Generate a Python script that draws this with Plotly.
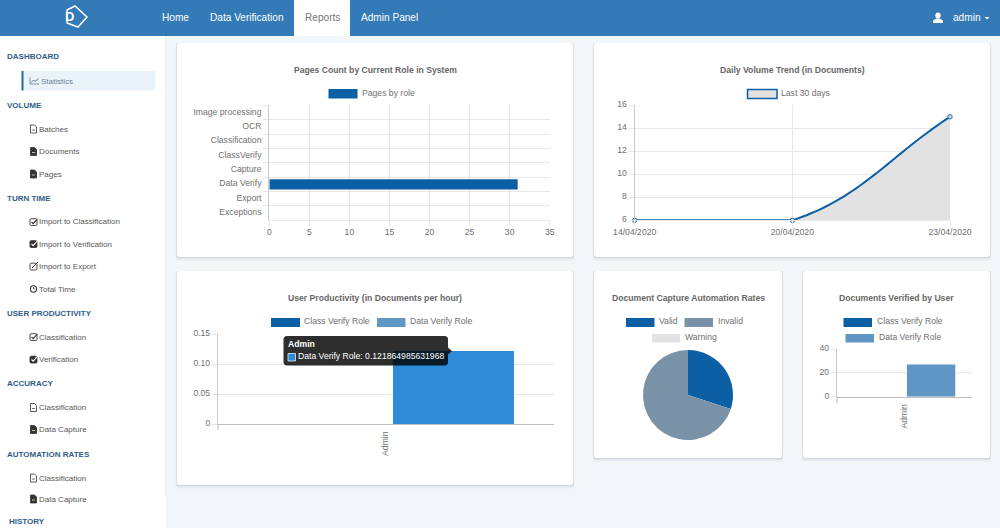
import plotly.graph_objects as go

# ---------- data ----------
role_categories = ["Image processing", "OCR", "Classification", "ClassVerify", "Capture", "Data Verify", "Export", "Exceptions"]
role_pages = [0, 0, 0, 0, 0, 31, 0, 0]
trend_dates = ["14/04/2020", "20/04/2020", "23/04/2020"]
trend_docs = [6, 6, 15]
users = ["Admin"]
prod_class = [0]
prod_data = [0.121864985631968]
auto_labels = ["Valid", "Invalid", "Warning"]
auto_values = [30, 70, 0]
verified_class = [0]
verified_data = [27]
nav_items = [("Home", 175.5), ("Data Verification", 246.5), ("Reports", 322), ("Admin Panel", 389.5)]
sidebar = [
    ("h", "DASHBOARD", 57), ("line", "Statistics", 81),
    ("h", "VOLUME", 105), ("docO", "Batches", 129), ("docF", "Documents", 151.5), ("docF", "Pages", 174),
    ("h", "TURN TIME", 198), ("chk", "Import to Classification", 222), ("chkF", "Import to Verification", 244),
    ("ext", "Import to Export", 266.5), ("clock", "Total Time", 289),
    ("h", "USER PRODUCTIVITY", 313), ("chk", "Classification", 337), ("chkF", "Verification", 359.5),
    ("h", "ACCURACY", 383), ("docO", "Classification", 407.5), ("docF", "Data Capture", 429.5),
    ("h", "AUTOMATION RATES", 454), ("docO", "Classification", 478), ("docF", "Data Capture", 499),
    ("h", "HISTORY", 521),
]

W, H = 1000, 528
FONT = "Liberation Sans, Arial, sans-serif"
BLUE = "#0b5fa5"
MID = "#6096c4"
SLATE = "#7a92a8"
GRID = "#e7e7e7"
AXIS = "#c9c9c9"
TXT = "#707070"
TICKPX = 8.64


def X(p):
    return p / W


def Y(p):
    return 1 - p / H


def P(x, y):
    return f"{X(x):.5f},{Y(y):.5f}"


shapes = []
ann = []


def rect(x0, y0, x1, y1, fill, line=None, lw=0, layer="below", opacity=1):
    shapes.append(dict(type="rect", xref="paper", yref="paper", x0=X(x0), x1=X(x1), y0=Y(y0), y1=Y(y1),
                       fillcolor=fill, line=dict(color=line or fill, width=lw), layer=layer, opacity=opacity))


def path(d, fill="rgba(0,0,0,0)", line="rgba(0,0,0,0)", lw=0, layer="below", opacity=1):
    shapes.append(dict(type="path", xref="paper", yref="paper", path=d, fillcolor=fill,
                       line=dict(color=line, width=lw), layer=layer, opacity=opacity))


def seg(x0, y0, x1, y1, color, lw=1, layer="below"):
    shapes.append(dict(type="line", xref="paper", yref="paper", x0=X(x0), x1=X(x1), y0=Y(y0), y1=Y(y1),
                       line=dict(color=color, width=lw), layer=layer))


def rrect_path(x0, y0, x1, y1, r):
    return (f"M{P(x0 + r, y0)} L{P(x1 - r, y0)} Q{P(x1, y0)} {P(x1, y0 + r)} L{P(x1, y1 - r)} "
            f"Q{P(x1, y1)} {P(x1 - r, y1)} L{P(x0 + r, y1)} Q{P(x0, y1)} {P(x0, y1 - r)} "
            f"L{P(x0, y0 + r)} Q{P(x0, y0)} {P(x0 + r, y0)} Z")


def text(x, y, s, size=TICKPX, color=TXT, bold=False, anchor="left", angle=0):
    ann.append(dict(xref="paper", yref="paper", x=X(x), y=Y(y), text=f"<b>{s}</b>" if bold else s, showarrow=False,
                    xanchor=anchor, yanchor="middle", align=anchor, borderpad=0, borderwidth=0, textangle=angle,
                    font=dict(family=FONT, size=size, color=color)))


def card(x0, y0, x1, y1):
    for off, op in ((4, 0.02), (3, 0.035), (2, 0.05), (1, 0.07)):
        path(rrect_path(x0 - off * 0.4, y0, x1 + off * 0.4, y1 + off, 3), fill="#3a4a5a", opacity=op)
    path(rrect_path(x0, y0, x1, y1, 3), fill="#ffffff")


def swatch(x0, y0, x1, y1, fill, line=None, lw=0):
    rect(x0, y0, x1, y1, fill, line, lw)


# ---------- page chrome ----------
rect(0, 36, 166, 528, "#ffffff")
seg(165.5, 36, 165.5, 496, "#eef0f2", 1)
rect(0, 0, 1000, 36, "#337ab7")
rect(294, 0, 350, 36, "#ffffff")
for label, cx in nav_items:
    text(cx, 18, label, size=10.1, color="#777777" if label == "Reports" else "#ffffff", anchor="center")
text(953, 18, "admin", size=10.1, color="#ffffff")
path(f"M{P(984.5, 17)} L{P(989.5, 17)} L{P(987, 19.5)} Z", fill="#ffffff")
shapes.append(dict(type="circle", xref="paper", yref="paper", x0=X(935.3), x1=X(940.7), y0=Y(18.5), y1=Y(12.5),
                   fillcolor="#ffffff", line=dict(width=0), layer="below"))
path(f"M{P(933, 23)} L{P(933, 20.5)} L{P(936.5, 18.5)} L{P(939.5, 18.5)} L{P(943, 20.5)} L{P(943, 23)} Z", fill="#ffffff")
# logo
path(f"M{P(67, 10)} L{P(75, 6)} L{P(87, 17)} L{P(78, 27)} L{P(67, 23)} Z", line="#ffffff", lw=1.5)
text(64.5, 16.5, "D", size=13, color="#ffffff", bold=True)

# sidebar
rect(22, 71, 155, 90.5, "#eaf3fa")
rect(21.5, 71, 23.5, 90.5, "#27699f")


def icon(kind, y):
    x0, x1, y0, y1 = 30.5, 36.5, y - 4, y + 4
    dark = "#333333"
    if kind in ("docO", "docF"):
        d = f"M{P(x0, y0)} L{P(x1 - 2, y0)} L{P(x1, y0 + 2)} L{P(x1, y1)} L{P(x0, y1)} Z"
        path(d, fill=dark if kind == "docF" else "#ffffff", line=dark, lw=0.8)
        seg(x0 + 1.5, y + 1, x1 - 1.5, y + 1, dark if kind == "docO" else "#ffffff", 0.7)
    elif kind in ("chk", "chkF", "ext"):
        path(rrect_path(x0 - 0.5, y0 + 0.7, x1 + 0.5, y1 - 0.5, 1.2), fill=dark if kind == "chkF" else "#ffffff", line=dark, lw=0.9)
        c = "#ffffff" if kind == "chkF" else dark
        if kind == "ext":
            path(f"M{P(x0 + 1.5, y + 1.5)} L{P(x1 + 1.5, y0 - 0.5)}", line=dark, lw=1)
        else:
            path(f"M{P(x0 + 1, y)} L{P(x0 + 2.7, y + 1.7)} L{P(x1 + 0.8, y - 3)}", line=c, lw=1.1)
    elif kind == "clock":
        shapes.append(dict(type="circle", xref="paper", yref="paper", x0=X(x0), x1=X(x1), y0=Y(y + 3.2), y1=Y(y - 3.2),
                           fillcolor="#ffffff", line=dict(color=dark, width=1.1), layer="below"))
        path(f"M{P(33.5, y - 2)} L{P(33.5, y)} L{P(35, y)}", line=dark, lw=0.7)
    elif kind == "line":
        path(f"M{P(30, y - 3.5)} L{P(30, y + 3)} L{P(39, y + 3)}", line="#4a6a85", lw=0.7)
        path(f"M{P(31, y + 1.5)} L{P(33.5, y - 1)} L{P(35, y + 0.5)} L{P(38.5, y - 2.5)}", line="#4a6a85", lw=0.9)


for kind, label, y in sidebar:
    if kind == "h":
        text(9 if label == "HISTORY" else 7, y, label, size=8, color="#2f5d88", bold=True)
    else:
        icon(kind, y)
        col = "#6d8296" if kind == "line" else "#585858"
        text(41 if kind == "line" else 39, y, label, size=8, color=col)

# ---------- cards ----------
card(177, 43, 573, 257)
card(594, 43, 990, 257)
card(177, 271, 573, 485)
card(594, 271, 782, 458)
card(803, 271, 990, 458)

for cx, cy, t in [(375, 70, "Pages Count by Current Role in System"), (792, 70, "Daily Volume Trend (in Documents)"),
                  (375, 298, "User Productivity (in Documents per hour)"), (688, 298, "Document Capture Automation Rates"),
                  (896.5, 298, "Documents Verified by User")]:
    text(cx, cy, t, bold=True, anchor="center", color="#666666")

# legends
swatch(328.5, 89, 357.5, 98.5, BLUE); text(362, 93, "Pages by role")
swatch(747.5, 89.5, 777, 98.5, "#e2e2e2", BLUE, 1.5); text(781, 93, "Last 30 days")
swatch(271, 318, 300, 327, BLUE); text(304.3, 321, "Class Verify Role")
swatch(377, 318, 405.5, 327, MID); text(410, 321, "Data Verify Role")
swatch(626, 318, 654.5, 327, BLUE); text(659, 321, auto_labels[0])
swatch(684.5, 318, 713, 327, SLATE); text(717.5, 321, auto_labels[1])
swatch(652, 334, 680, 342.5, "#e3e3e3"); text(685, 337, auto_labels[2])
swatch(843.5, 318, 872, 327, BLUE); text(877, 321, "Class Verify Role")
swatch(845.5, 334, 874, 342.5, MID); text(878.7, 337, "Data Verify Role")

# ---------- traces ----------
fig = go.Figure()
fig.add_trace(go.Bar(y=role_categories, x=role_pages, orientation="h", width=0.72, marker=dict(color=BLUE, line=dict(width=0)),
                     xaxis="x", yaxis="y", name="Pages by role"))

TREND_X_DOMAIN = (634.7, 950)
TREND_Y_DOMAIN = (220.3, 105.3)
TREND_Y_RANGE = (6, 16)


def tension_curve(vals, tension=0.4, steps=40):
    """Rendering of the smoothed line: the tension Bezier through the data values, capped to the plot area,
    computed the way the original chart library does it (in screen proportions)."""
    n = len(vals)
    sx = (TREND_X_DOMAIN[1] - TREND_X_DOMAIN[0]) / (n - 1)
    sy = (TREND_Y_DOMAIN[0] - TREND_Y_DOMAIN[1]) / (TREND_Y_RANGE[1] - TREND_Y_RANGE[0])
    pts = [(i * sx, v * sy) for i, v in enumerate(vals)]
    before, after = [], []
    for i, p in enumerate(pts):
        a = pts[max(i - 1, 0)]
        b = pts[min(i + 1, n - 1)]
        d01 = ((p[0] - a[0]) ** 2 + (p[1] - a[1]) ** 2) ** 0.5
        d12 = ((b[0] - p[0]) ** 2 + (b[1] - p[1]) ** 2) ** 0.5
        s = (d01 + d12) or 1
        fa, fb = tension * d01 / s, tension * d12 / s
        cap = lambda v: max(TREND_Y_RANGE[0] * sy, min(TREND_Y_RANGE[1] * sy, v))
        before.append((p[0] - fa * (b[0] - a[0]), cap(p[1] - fa * (b[1] - a[1]))))
        after.append((p[0] + fb * (b[0] - a[0]), cap(p[1] + fb * (b[1] - a[1]))))
    xs, ys = [], []
    for i in range(n - 1):
        p0, c1, c2, p3 = pts[i], after[i], before[i + 1], pts[i + 1]
        for k in range(steps):
            t = k / steps
            u = 1 - t
            bx = u**3 * p0[0] + 3 * u**2 * t * c1[0] + 3 * u * t**2 * c2[0] + t**3 * p3[0]
            by = u**3 * p0[1] + 3 * u**2 * t * c1[1] + 3 * u * t**2 * c2[1] + t**3 * p3[1]
            xs.append(bx / sx)
            ys.append(by / sy)
    xs.append(n - 1)
    ys.append(vals[-1])
    return xs, ys


cx_, cy_ = tension_curve(trend_docs)
fig.add_trace(go.Scatter(x=cx_, y=cy_, mode="lines", fill="tozeroy", fillcolor="#e2e2e2",
                         line=dict(color=BLUE, width=2, simplify=False),
                         xaxis="x2", yaxis="y2", name="Last 30 days", hoverinfo="skip"))
fig.add_trace(go.Scatter(x=list(range(len(trend_dates))), y=trend_docs, mode="markers", cliponaxis=False,
                         marker=dict(size=4.5, color="#c9d9e8", line=dict(color="#2f6fa8", width=1)),
                         xaxis="x2", yaxis="y2", name="Last 30 days"))

fig.add_trace(go.Bar(x=users, y=prod_class, width=0.36, offset=-0.34, marker=dict(color=BLUE, line=dict(width=0)), xaxis="x3", yaxis="y3", name="Class Verify Role"))
fig.add_trace(go.Bar(x=users, y=prod_data, width=0.36, offset=0.0208, marker=dict(color="#2e8bd8", line=dict(width=0)), xaxis="x3", yaxis="y3", name="Data Verify Role"))

fig.add_trace(go.Pie(labels=auto_labels, values=auto_values, sort=False, direction="clockwise", rotation=0,
                     textinfo="none", marker=dict(colors=[BLUE, SLATE, "#e3e3e3"], line=dict(width=0)),
                     domain=dict(x=[X(643), X(733)], y=[Y(440), Y(350)]), showlegend=False))

fig.add_trace(go.Bar(x=users, y=verified_class, width=0.358, offset=-0.34, marker=dict(color=BLUE, line=dict(width=0)), xaxis="x4", yaxis="y4", name="Class Verify Role"))
fig.add_trace(go.Bar(x=users, y=verified_data, width=0.358, offset=0.018, marker=dict(color=MID, line=dict(width=0)), xaxis="x4", yaxis="y4", name="Data Verify Role"))


def ax(**kw):
    d = dict(tickfont=dict(family=FONT, size=TICKPX, color=TXT), gridcolor=GRID, gridwidth=1, zeroline=False,
             ticks="outside", ticklen=5, tickcolor=GRID, tickwidth=1, automargin=False, showline=False)
    d.update(kw)
    return d


layout_axes = dict(
    xaxis=ax(domain=[X(269.3), X(549.7)], range=[0, 35], dtick=5, anchor="y", showline=True, linecolor=GRID, ticklabelstandoff=-2),
    yaxis=ax(domain=[Y(220.3), Y(105.3)], type="category", categoryorder="array", categoryarray=role_categories,
             range=[len(role_categories) - 0.5, -0.5], tickson="boundaries", anchor="x", showline=True, linecolor=AXIS, linewidth=1.2,
             ticklabelstandoff=5, ticklabelshift=1),
    xaxis2=ax(domain=[X(TREND_X_DOMAIN[0]), X(TREND_X_DOMAIN[1])], range=[0, 2], tickmode="array", tickvals=[0, 1, 2], ticktext=trend_dates,
              anchor="y2", showline=True, linecolor=GRID, ticklabelstandoff=-2),
    yaxis2=ax(domain=[Y(TREND_Y_DOMAIN[0]), Y(TREND_Y_DOMAIN[1])], range=list(TREND_Y_RANGE), dtick=2, anchor="x2", showline=True, linecolor=AXIS, linewidth=1.2,
              ticklabelshift=-1),
    xaxis3=ax(domain=[X(218), X(554)], type="category", range=[-0.5, 0.5], tickangle=-90, showgrid=False, anchor="y3",
              tickcolor="rgba(0,0,0,0)", ticklen=3, showline=True, linecolor="#bdbdbd", ticklabelshift=-1),
    yaxis3=ax(domain=[Y(424), Y(334)], range=[0, 0.15], anchor="x3", showline=True, linecolor=AXIS, linewidth=1.2,
              tickvals=[0, 0.05, 0.1, 0.15], ticktext=["0", "0.05", "0.10", "0.15"], tickmode="array", ticklabelshift=-1),
    xaxis4=ax(domain=[X(837), X(972)], type="category", range=[-0.5, 0.5], tickangle=-90, showgrid=False, anchor="y4",
              tickcolor="rgba(0,0,0,0)", ticklen=3, showline=True, linecolor="#bdbdbd"),
    yaxis4=ax(domain=[Y(396.7), Y(349)], range=[0, 40], dtick=20, anchor="x4", showline=True, linecolor=AXIS, linewidth=1.2,
              ticklabelshift=-1),
)

seg(218, 424, 218, 430, AXIS, 1.2, layer="above")
seg(837, 396.7, 837, 403, AXIS, 1.2, layer="above")

# hover tooltip as in the captured state
path(rrect_path(283.5, 336, 448, 365.5, 3.5), fill="rgba(0,0,0,0.82)", layer="above")
path(f"M{P(448, 347.5)} L{P(452, 351)} L{P(448, 354.5)} Z", fill="rgba(0,0,0,0.82)", layer="above")
rect(288, 353.5, 295.5, 361, "#2e8bd8", "#ffffff", 0.7, layer="above")
text(287.5, 343.5, users[0], color="#ffffff", bold=True)
text(297.5, 356, f"Data Verify Role: {prod_data[0]}", color="#ffffff")

fig.update_layout(width=W, height=H, margin=dict(l=0, r=0, t=0, b=0), autosize=False,
                  paper_bgcolor="#f3f6f9", plot_bgcolor="rgba(0,0,0,0)", barmode="overlay", showlegend=False,
                  shapes=shapes, annotations=ann, font=dict(family=FONT), **layout_axes)

fig.write_html("out.html", config=dict(displayModeBar=False),
               post_script="document.body.style.margin='0';document.body.style.overflow='hidden';")
